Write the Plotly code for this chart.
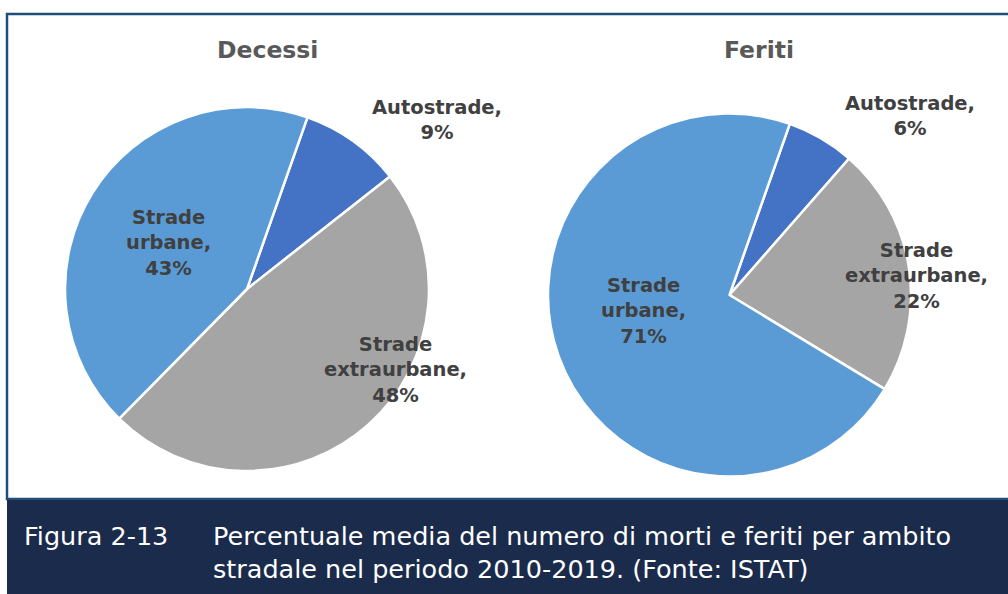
import plotly.graph_objects as go

# Data
CATEGORIES = ["Autostrade", "Strade extraurbane", "Strade urbane"]
DECESSI = [9, 48, 43]
FERITI = [6, 22, 71]
COLORS = ["#4472C4", "#A5A5A5", "#5B9BD5"]
TITLES = ["Decessi", "Feriti"]
CAPTION_NUM = "Figura 2-13"
CAPTION_LINES = [
    "Percentuale media del numero di morti e feriti per ambito",
    "stradale nel periodo 2010-2019. (Fonte: ISTAT)",
]

W, H = 1008, 594


def px(x):
    return x / W


def py(y):
    return 1 - y / H


def label_text(cat, val):
    words = cat.split(" ")
    return "<br>".join(words[:-1] + [words[-1] + ",", f"{val}%"])


fig = go.Figure()

# pie boxes in pixel coordinates (left, top, right, bottom)
pie_boxes = [(65, 107, 429, 471), (548, 113, 911, 477)]

for values, box in zip([DECESSI, FERITI], pie_boxes):
    fig.add_trace(go.Pie(
        labels=CATEGORIES,
        values=values,
        sort=False,
        direction="clockwise",
        rotation=19.4,
        marker=dict(colors=COLORS, line=dict(color="white", width=2.5)),
        textinfo="none",
        hoverinfo="skip",
        showlegend=False,
        domain=dict(x=[px(box[0]), px(box[2])], y=[py(box[3]), py(box[1])]),
    ))

annotations = []

# chart titles
for title, cx in zip(TITLES, [267, 759]):
    annotations.append(dict(
        text=title, x=px(cx), y=py(50), xref="paper", yref="paper",
        showarrow=False, xanchor="center", yanchor="middle",
        font=dict(family="DejaVu Sans", size=23.5, color="#595959", weight="bold"),
    ))

# data labels, placed where the original put them
label_pos = [
    [(437, 120), (395, 370), (168, 243)],
    [(910, 116), (916, 276), (643, 311)],
]
for values, positions in zip([DECESSI, FERITI], label_pos):
    for cat, val, (lx, ly) in zip(CATEGORIES, values, positions):
        annotations.append(dict(
            text=label_text(cat, val), x=px(lx), y=py(ly),
            xref="paper", yref="paper", showarrow=False,
            xanchor="center", yanchor="middle", align="center",
            font=dict(family="DejaVu Sans", size=19.5, color="#404040", weight="bold"),
        ))

# caption in the navy band
cap_font = dict(family="DejaVu Sans", size=25.5, color="white")
annotations.append(dict(
    text=CAPTION_NUM, x=px(22), y=py(536), xref="paper", yref="paper",
    showarrow=False, xanchor="left", yanchor="middle", font=cap_font,
))
for line, ly in zip(CAPTION_LINES, [536, 569]):
    annotations.append(dict(
        text=line, x=px(211), y=py(ly), xref="paper", yref="paper",
        showarrow=False, xanchor="left", yanchor="middle", font=cap_font,
    ))

shapes = [
    # thin frame
    dict(type="rect", xref="paper", yref="paper",
         x0=px(7), y0=py(499), x1=px(1015), y1=py(14),
         line=dict(color="#1F4E79", width=2.5), fillcolor="rgba(0,0,0,0)"),
    # caption band
    dict(type="rect", xref="paper", yref="paper",
         x0=px(7), y0=py(600), x1=px(1015), y1=py(499),
         line=dict(width=0), fillcolor="#1B2B4B"),
    dict(type="line", xref="paper", yref="paper",
         x0=px(7), y0=py(499), x1=px(1015), y1=py(499),
         line=dict(color="#1F4E79", width=2)),
]

fig.update_layout(
    width=W,
    height=H,
    margin=dict(l=0, r=0, t=0, b=0),
    paper_bgcolor="white",
    plot_bgcolor="white",
    annotations=annotations,
    shapes=shapes,
)

# drop the default page margin so the figure sits at the window origin
fig.write_html(
    "out.html",
    config={"displayModeBar": False},
    post_script="document.body.style.margin='0px';",
)
